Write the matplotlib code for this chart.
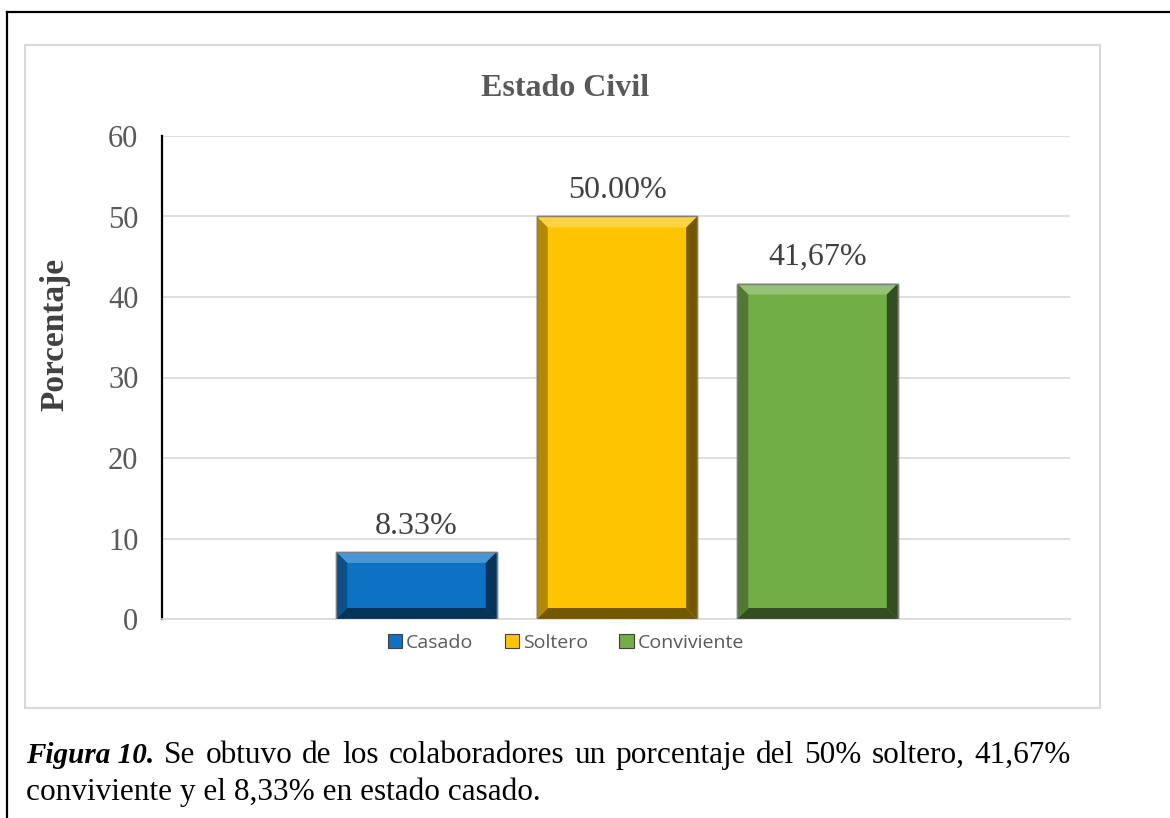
import matplotlib.pyplot as plt
import matplotlib.colors as mcolors
from matplotlib.patches import Polygon, Rectangle
import numpy as np

# data
series = ['Casado', 'Soltero', 'Conviviente']
values = [8.33, 50.00, 41.67]
labels = ['8.33%', '50.00%', '41,67%']
colors = ['#0E72C4', '#FFC400', '#72AE46']
yticks = [0, 10, 20, 30, 40, 50, 60]

serif = 'Liberation Serif'

fig = plt.figure(figsize=(11.7, 8.18), dpi=100)
W, H = 1170, 818

# outer document frame and chart frame
fig.add_artist(plt.Line2D([7 / W, 7 / W], [0, 1 - 12 / H], color='black', lw=1.6))
fig.add_artist(plt.Line2D([7 / W, 1], [1 - 12 / H, 1 - 12 / H], color='black', lw=1.6))
fig.add_artist(Rectangle((25 / W, 1 - 708 / H), (1100 - 25) / W, (708 - 45) / H,
                         transform=fig.transFigure, fill=False, ec='#D9D9D9', lw=1.5))

ax = fig.add_axes([162 / W, 1 - 619 / H, (1070 - 162) / W, (619 - 136) / H])
x = np.arange(len(series))
width = 0.8
ax.set_xlim(-1.269, 3.259)
ax.set_ylim(0, 60)

bars = ax.bar(x, values, width=width, color=colors, edgecolor='#7F7F7F', linewidth=1.0, zorder=3)

# bevel effect on each bar
fig.canvas.draw()
inv = ax.transData.inverted()
for b, c in zip(bars, colors):
    x0, y0 = ax.transData.transform((b.get_x(), 0))
    x1, y1 = ax.transData.transform((b.get_x() + b.get_width(), b.get_height()))
    bv = 11
    rgb = np.array(mcolors.to_rgb(c))
    light = np.clip(rgb + (1 - rgb) * 0.25, 0, 1)
    dark = rgb * 0.45
    mid = rgb * 0.7
    faces = [
        ([(x0, y1), (x1, y1), (x1 - bv, y1 - bv), (x0 + bv, y1 - bv)], light),
        ([(x0, y0), (x1, y0), (x1 - bv, y0 + bv), (x0 + bv, y0 + bv)], dark),
        ([(x0, y0), (x0, y1), (x0 + bv, y1 - bv), (x0 + bv, y0 + bv)], mid),
        ([(x1, y0), (x1, y1), (x1 - bv, y1 - bv), (x1 - bv, y0 + bv)], dark),
    ]
    for pts, fc in faces:
        ax.add_patch(Polygon(inv.transform(pts), closed=True, fc=fc, ec='none', zorder=4))
    ax.add_patch(Rectangle((b.get_x(), 0), b.get_width(), b.get_height(),
                           fill=False, ec='#7F7F7F', lw=1.0, zorder=5))

for xi, v, lab in zip(x, values, labels):
    ax.text(xi, v + 1.4, lab, ha='center', va='bottom', fontsize=23,
            family=serif, color='#404040', zorder=6)

ax.set_yticks(yticks)
ax.set_xticks([])
ax.tick_params(axis='y', length=0, pad=17, labelsize=22, labelcolor='#595959')
for t in ax.get_yticklabels():
    t.set_family(serif)
ax.grid(axis='y', color='#D9D9D9', lw=1.2, zorder=0)
for s in ['top', 'right']:
    ax.spines[s].set_visible(False)
ax.spines['left'].set_color('black')
ax.spines['left'].set_linewidth(1.6)
ax.spines['bottom'].set_color('#D9D9D9')
ax.spines['bottom'].set_linewidth(1.2)

fig.text(565 / W, 1 - 88 / H, 'Estado Civil', ha='center', va='center',
         fontsize=23, fontweight='bold', family=serif, color='#595959')
fig.text(55 / W, 1 - 334 / H, 'Porcentaje', ha='center', va='center', rotation=90,
         fontsize=24, fontweight='bold', family=serif, color='#404040')

# legend
handles = [Rectangle((0, 0), 1, 1, fc=c, ec='#404040', lw=0.8) for c in colors]
fig.legend(handles, series, loc='center', bbox_to_anchor=(566 / W, 1 - 643 / H),
           ncol=3, frameon=False, prop={'family': 'Open Sans', 'size': 14},
           labelcolor='#595959', handlelength=0.75, handleheight=0.75,
           handletextpad=0.2, columnspacing=1.6)

# caption (first line justified to the right edge like the document)
cap_size = 22.5
line1 = 'Se obtuvo de los colaboradores un porcentaje del 50% soltero, 41,67%'
line2 = 'conviviente y el 8,33% en estado casado.'
renderer = fig.canvas.get_renderer()
bold = fig.text(26 / W, 1 - 763 / H, 'Figura 10.', ha='left', va='baseline',
                fontsize=21, family=serif, fontweight='bold',
                fontstyle='italic', color='black')
words = [bold]
for w in line1.split(' '):
    words.append(fig.text(0, 1 - 763 / H, w, ha='left', va='baseline',
                          fontsize=cap_size, family=serif, color='black'))
widths = [t.get_window_extent(renderer).width for t in words]
right_edge = 1071
gap = (right_edge - 26 - sum(widths)) / (len(words) - 1)
xpos = 26
for t, wd in zip(words, widths):
    t.set_x(xpos / W)
    xpos += wd + gap
fig.text(26 / W, 1 - 800 / H, line2, ha='left', va='baseline',
         fontsize=cap_size, family=serif, color='black')

fig.savefig('out.png', dpi=100)
